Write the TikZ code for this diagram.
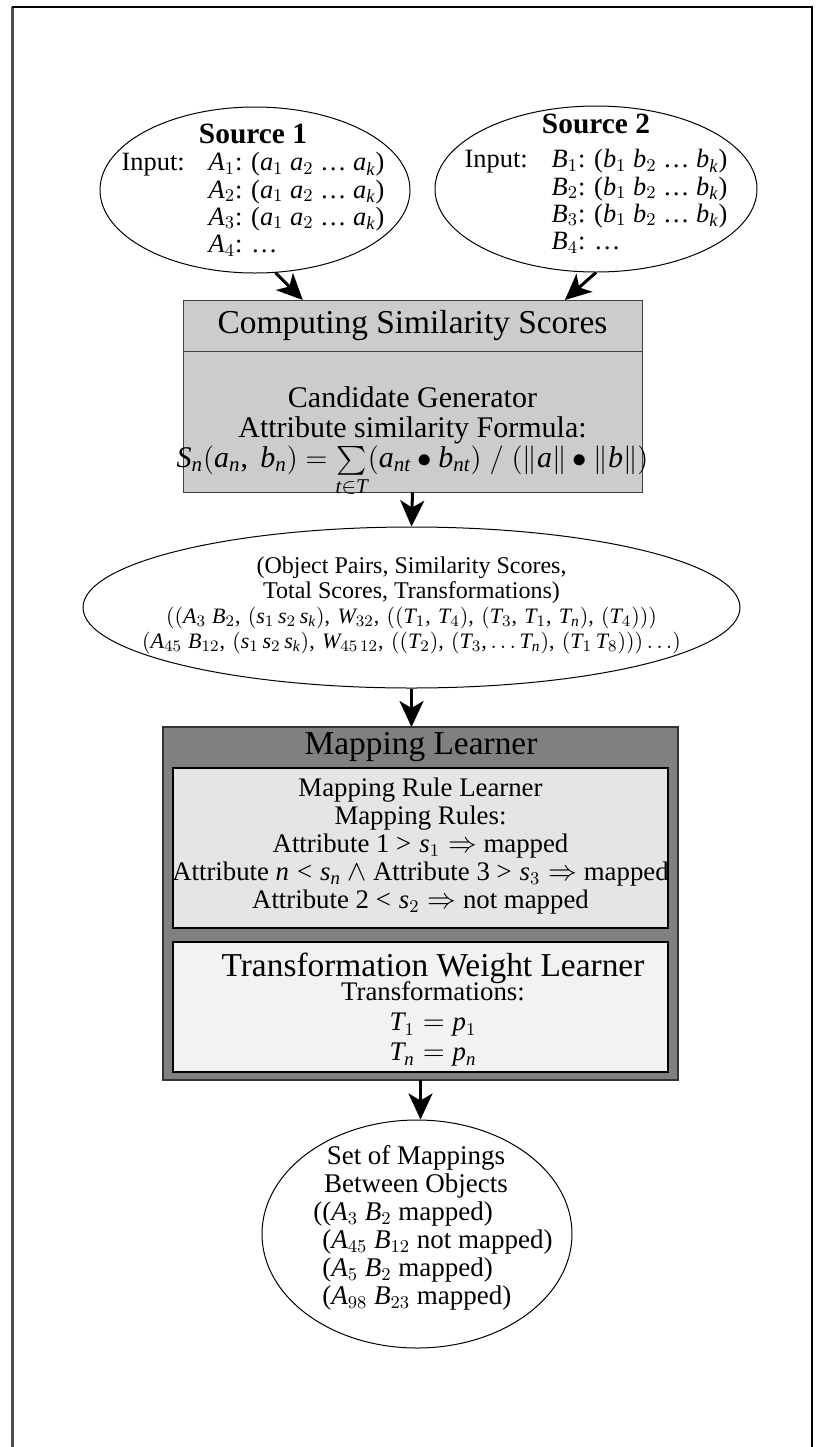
\documentclass[tikz,border=0pt]{standalone}
\usepackage{amsmath}
\usepackage{fontspec}
\setmainfont{Liberation Serif}
% math letters, digits and signs taken from the text font
\DeclareSymbolFont{itletters}{TU}{\rmdefault}{m}{it}
\DeclareSymbolFont{upletters}{TU}{\rmdefault}{m}{n}
\DeclareMathSymbol{A}{\mathalpha}{itletters}{`A}
\DeclareMathSymbol{B}{\mathalpha}{itletters}{`B}
\DeclareMathSymbol{S}{\mathalpha}{itletters}{`S}
\DeclareMathSymbol{T}{\mathalpha}{itletters}{`T}
\DeclareMathSymbol{W}{\mathalpha}{itletters}{`W}
\DeclareMathSymbol{a}{\mathalpha}{itletters}{`a}
\DeclareMathSymbol{b}{\mathalpha}{itletters}{`b}
\DeclareMathSymbol{k}{\mathalpha}{itletters}{`k}
\DeclareMathSymbol{n}{\mathalpha}{itletters}{`n}
\DeclareMathSymbol{p}{\mathalpha}{itletters}{`p}
\DeclareMathSymbol{s}{\mathalpha}{itletters}{`s}
\DeclareMathSymbol{t}{\mathalpha}{itletters}{`t}
\DeclareMathSymbol{0}{\mathalpha}{upletters}{`0}
\DeclareMathSymbol{1}{\mathalpha}{upletters}{`1}
\DeclareMathSymbol{2}{\mathalpha}{upletters}{`2}
\DeclareMathSymbol{3}{\mathalpha}{upletters}{`3}
\DeclareMathSymbol{4}{\mathalpha}{upletters}{`4}
\DeclareMathSymbol{5}{\mathalpha}{upletters}{`5}
\DeclareMathSymbol{8}{\mathalpha}{upletters}{`8}
\DeclareMathSymbol{9}{\mathalpha}{upletters}{`9}
\DeclareMathSymbol{(}{\mathopen}{upletters}{`(}
\DeclareMathSymbol{)}{\mathclose}{upletters}{`)}
\DeclareMathSymbol{,}{\mathpunct}{upletters}{`,}
\DeclareMathSymbol{=}{\mathrel}{upletters}{`=}
\DeclareMathSymbol{<}{\mathrel}{upletters}{`<}
\DeclareMathSymbol{>}{\mathrel}{upletters}{`>}
\DeclareMathSymbol{/}{\mathord}{upletters}{`/}
\usetikzlibrary{positioning}
\usetikzlibrary{shapes.geometric,calc,arrows.meta}
\newcommand\titlefont{\fontsize{16.7}{18}\selectfont}
\newcommand\bodyfont{\fontsize{13.2}{13.6}\selectfont}
\newcommand\srctitle[1]{{\fontsize{14.7}{13.6}\selectfont\bfseries #1}}

\begin{document}
\begin{tikzpicture}[x=0.5pt,y=-0.5pt,
	oval/.style={draw,ellipse,line width=0.5pt,inner sep=0pt},
	box/.style={draw,rectangle,inner sep=0pt,outer sep=0pt},
	flow/.style={line width=1.5pt,-{Stealth[length=13pt,width=12pt,inset=3.5pt]}},
	txt/.style={inner sep=0pt,align=center,font=\bodyfont}]
	\useasboundingbox (0,0) rectangle (816,1447);
	% frame, open at the bottom
	\draw[line width=1.5pt,black!70] (12,1447) -- (12,7);
	\draw[line width=1pt] (11.5,7) -- (812,7) -- (812,1447);

	% sources
	\node[oval,minimum width=155pt,minimum height=83pt] (src1) at (255,190) {};
	\node[oval,minimum width=161pt,minimum height=83pt] (src2) at (596,189) {};
	\node[txt] (src1txt) at (253,192.5) {\begin{tabular}{@{}l@{\hspace{12pt}}l@{}}
		\multicolumn{2}{c}{\srctitle{Source 1}}\\
		Input: & $A_1$: ($a_1$ $a_2$ \ldots\ $a_k$)\\
		 & $A_2$: ($a_1$ $a_2$ \ldots\ $a_k$)\\
		 & $A_3$: ($a_1$ $a_2$ \ldots\ $a_k$)\\
		 & $A_4$: \ldots
	\end{tabular}};
	\node[txt] (src2txt) at (596,186) {\begin{tabular}{@{}l@{\hspace{12pt}}l@{}}
		\multicolumn{2}{c}{\srctitle{Source 2}}\\[3.5pt]
		Input: & $B_1$: ($b_1$ $b_2$ \ldots\ $b_k$)\\
		 & $B_2$: ($b_1$ $b_2$ \ldots\ $b_k$)\\
		 & $B_3$: ($b_1$ $b_2$ \ldots\ $b_k$)\\
		 & $B_4$: \ldots
	\end{tabular}};

	% similarity scores
	\node[box,fill=gray!40,draw=black!75,minimum width=229.5pt,minimum height=25.5pt,font=\titlefont] (simhead) at (412.5,325.5) {Computing Similarity Scores};
	\node[box,fill=gray!40,draw=black!75,minimum width=229.5pt,minimum height=70.5pt,below=0pt of simhead] (simbody) {};
	\node[txt,font=\fontsize{15}{15}\selectfont] (simtxt) at (412.5,442) {Candidate Generator\\
		Attribute similarity Formula:\\
		$S_n(a_n,\ b_n) = \sum\limits_{t\in T}(a_{nt} \bullet b_{nt}) \;/\; (\|a\| \bullet \|b\|)$};

	% pairs and scores
	\node[oval,minimum width=328.5pt,minimum height=80.5pt] (res) at (411.5,607.5) {};
	\node[txt,font=\fontsize{12}{12.5}\selectfont] (restxt) at (411.5,605) {(Object Pairs, Similarity Scores,\\
		Total Scores, Transformations)\\
		\fontsize{11}{12.5}\selectfont$((A_3\;B_2,\,(s_1\,s_2\,s_k),\,W_{32},\,((T_1,\,T_4),\,(T_3,\,T_1,\,T_n),\,(T_4)))$\\
		\fontsize{11}{12.5}\selectfont$(A_{45}\;B_{12},\,(s_1\,s_2\,s_k),\,W_{45\,12},\,((T_2),\,(T_3,\ldots T_n),\,(T_1\,T_8)))\ldots)$};

	% mapping learner
	\node[box,fill=gray,draw=black!80,line width=0.8pt,minimum width=257.5pt,minimum height=176.5pt] (ml) at (420.5,903.5) {};
	\node[txt,font=\titlefont] (mltitle) at (421,747.5) {Mapping Learner};
	\node[box,fill=gray!20,line width=0.7pt,minimum width=247.5pt,minimum height=80pt] (rules) at (420.5,848) {};
	\node[txt,font=\fontsize{13.4}{14}\selectfont] (rulestxt) at (420.5,846) {Mapping Rule Learner\\
		Mapping Rules:\\
		Attribute 1 $> s_1 \Rightarrow$ mapped\\
		Attribute $n < s_n \wedge{}$Attribute 3 $> s_3 \Rightarrow$ mapped\\
		Attribute 2 $< s_2 \Rightarrow$ not mapped};
	\node[box,fill=gray!10,line width=0.7pt,minimum width=247.5pt,minimum height=65pt] (trans) at (420.5,1007) {};
	\node[txt,font=\fontsize{13.4}{15}\selectfont] (transtxt) at (433,1010) {{\titlefont Transformation Weight Learner}\\[-3pt]
		Transformations:\\
		$T_1 = p_1$\\
		$T_n = p_n$};

	% resulting mappings
	\node[oval,minimum width=155pt,minimum height=114pt] (map) at (417,1234) {};
	\node[txt,font=\fontsize{13.5}{14}\selectfont] (maptitle) at (416,1172) {Set of Mappings\\ Between Objects};
	\node[txt,align=left,anchor=west,font=\fontsize{13.5}{14}\selectfont] (maplist) at (322,1256) {\llap{(}($A_3$ $B_2$ mapped)\\
		($A_{45}$ $B_{12}$ not mapped)\\
		($A_5$ $B_2$ mapped)\\
		($A_{98}$ $B_{23}$ mapped)};

	\draw[flow] (src1.-76) -- ($(simhead.north west)!0.261!(simhead.north east)$);
	\draw[flow] (src2.south) -- ($(simhead.north west)!0.832!(simhead.north east)$);
	\draw[flow] (simbody.south) -- (res.north);
	\draw[flow] (res.south) -- (res.south |- ml.north);
	\draw[flow] (ml.south) -- (ml.south |- map.north);
\end{tikzpicture}
\end{document}
